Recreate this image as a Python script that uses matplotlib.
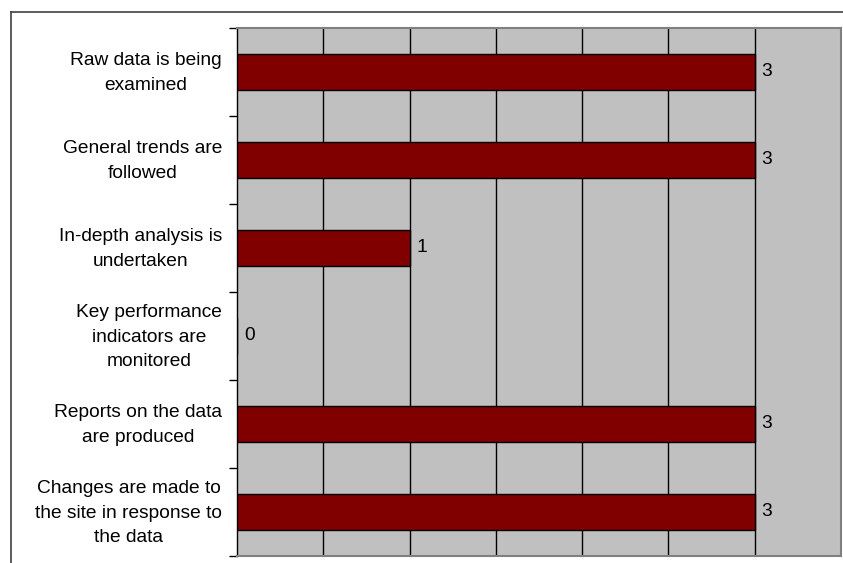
import matplotlib
matplotlib.use("Agg")
import matplotlib.pyplot as plt
from matplotlib.lines import Line2D
from matplotlib.transforms import ScaledTranslation

categories = [
    "Raw data is being\nexamined",
    "General trends are\nfollowed",
    "In-depth analysis is\nundertaken",
    "Key performance\nindicators are\nmonitored",
    "Reports on the data\nare produced",
    "Changes are made to\nthe site in response to\nthe data",
]
values = [3, 3, 1, 0, 3, 3]

plt.rcParams["font.family"] = ["Liberation Sans", "DejaVu Sans"]

W, H = 843, 563
fig = plt.figure(figsize=(W / 100, H / 100), dpi=100)
fig.patch.set_facecolor("white")

# plot area in pixel coordinates
left, right, top, bottom = 237, 841, 28, 556
ax = fig.add_axes([left / W, 1 - bottom / H, (right - left) / W, (bottom - top) / H])
ax.set_facecolor("#C0C0C0")

n = len(categories)
ypos = list(range(n))
ax.barh(ypos, values, height=0.41, color="#800000", edgecolor="black", linewidth=1.0, zorder=3)

ax.set_xlim(0, 3.5)
ax.set_ylim(n - 0.5, -0.5)

# vertical gridlines every 0.5
for gx in [0.5, 1.0, 1.5, 2.0, 2.5, 3.0]:
    ax.axvline(gx, color="black", linewidth=1.0, zorder=1)

ax.set_xticks([])
ax.set_yticks([i - 0.5 for i in range(n)] + [n - 0.5])
ax.set_yticklabels([])
ax.tick_params(axis="y", which="major", length=6, width=1, color="black", direction="out")

# category labels, right-aligned block with centred lines
label_shift = ScaledTranslation(-15 / 100, -1 / 100, fig.dpi_scale_trans)
for y, cat in zip(ypos, categories):
    ax.text(0, y, cat, transform=ax.get_yaxis_transform() + label_shift,
            ha="right", va="center", multialignment="center",
            fontsize=13.8, linespacing=1.55)

for spine in ["top", "right", "bottom"]:
    ax.spines[spine].set_color("#808080")
    ax.spines[spine].set_linewidth(1.5)
ax.spines["left"].set_color("black")
ax.spines["left"].set_linewidth(1.0)

for y, v in zip(ypos, values):
    ax.text(v + 0.04, y, str(v), va="center", ha="left", fontsize=13.8, zorder=4)

# outer frame (left and top edges)
fig.add_artist(Line2D([11 / W, 11 / W], [0, 1 - 12 / H], transform=fig.transFigure,
                      color="#404040", linewidth=1.2))
fig.add_artist(Line2D([11 / W, 843 / W], [1 - 12 / H, 1 - 12 / H], transform=fig.transFigure,
                      color="#404040", linewidth=1.2))

fig.savefig("out.png", dpi=100)
